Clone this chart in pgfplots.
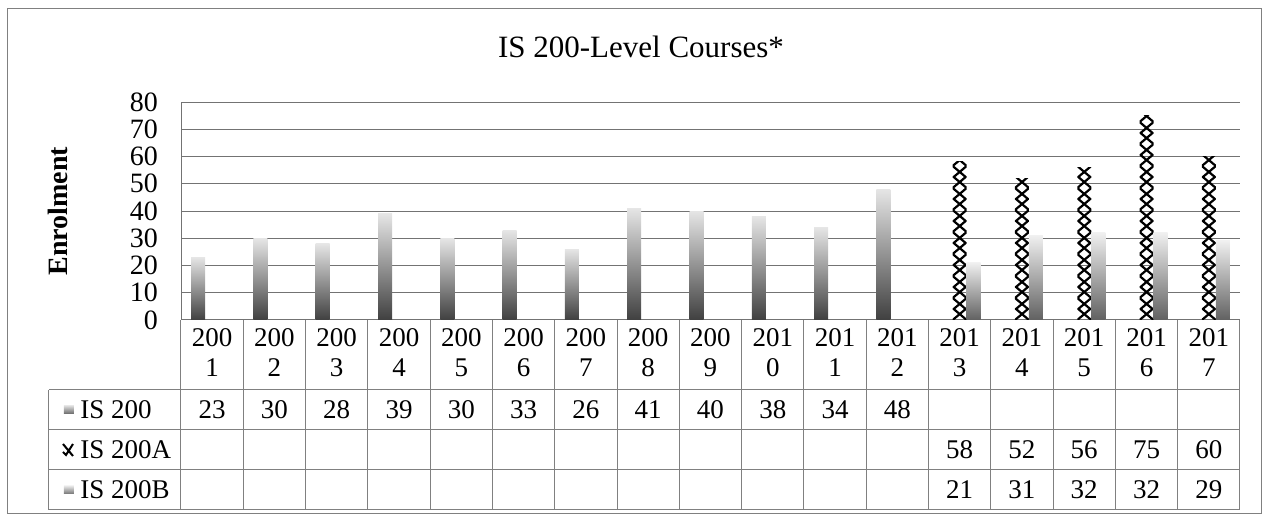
\documentclass[border=0pt]{standalone}
\usepackage{pgfplots}
\pgfplotsset{compat=1.18}
\usepackage{fontspec}
\setmainfont{Liberation Serif}
\newcommand{\tabfont}{\fontsize{13.5bp}{15bp}\selectfont}
\pgfplotsset{
  sA/.style={ybar, bar shift=-7bp, draw=none, bottom color=black!75, top color=black!10},
  sB/.style={ybar, bar shift=0bp, draw=none, fill=none,
    path picture={
      \draw[path picture={}, draw=black, fill=none, line width=1.1bp]
        (path picture bounding box.south west)
        \foreach \k in {1,...,20}{ -- ++(6.5bp,5.5bp) -- ++(-6.5bp,5.5bp) };
      \draw[path picture={}, draw=black, fill=none, line width=1.1bp]
        (path picture bounding box.south east)
        \foreach \k in {1,...,20}{ -- ++(-6.5bp,5.5bp) -- ++(6.5bp,5.5bp) };
    }},
  sC/.style={ybar, bar shift=7bp, draw=none, bottom color=black!62, top color=black!6},
}
\begin{document}
\begin{tikzpicture}
\useasboundingbox (0,0) rectangle (632.5bp,258.5bp);
\begin{scope}[x=0.5bp,y=-0.5bp,yshift=258.5bp]
  \draw[black!50, line width=0.5bp] (8,9) rectangle (1262,514);
  \node[font=\fontsize{15.5bp}{18bp}\selectfont] at (641,47) {IS 200-Level Courses*};
\end{scope}
\begin{axis}[
  at={(90.5bp,98.5bp)}, anchor=south west,
  scale only axis, width=529.5bp, height=109bp,
  xmin=-0.5, xmax=16.5, ymin=0, ymax=80,
  ytick={0,10,...,80}, xtick=\empty,
  ymajorgrids, grid style={black!55, line width=0.5bp},
  separate axis lines,
  axis x line*=bottom, axis y line*=left,
  axis line style={-, black!55, line width=0.5bp},
  major tick length=0pt,
  /pgf/number format/assume math mode=true,
  yticklabel style={font=\fontsize{14bp}{15bp}\selectfont, anchor=east, xshift=-8bp},
  ylabel={\bfseries Enrolment},
  ylabel style={font=\fontsize{14bp}{16bp}\selectfont, at={(axis description cs:0,0.5)}, anchor=center, yshift=61.5bp},
  ybar, bar width=7bp,
  clip=false,
]
% IS 200
\addplot[sA] coordinates {(0,23)};
\addplot[sA] coordinates {(1,30)};
\addplot[sA] coordinates {(2,28)};
\addplot[sA] coordinates {(3,39)};
\addplot[sA] coordinates {(4,30)};
\addplot[sA] coordinates {(5,33)};
\addplot[sA] coordinates {(6,26)};
\addplot[sA] coordinates {(7,41)};
\addplot[sA] coordinates {(8,40)};
\addplot[sA] coordinates {(9,38)};
\addplot[sA] coordinates {(10,34)};
\addplot[sA] coordinates {(11,48)};
% IS 200A
\addplot[sB] coordinates {(12,58)};
\addplot[sB] coordinates {(13,52)};
\addplot[sB] coordinates {(14,56)};
\addplot[sB] coordinates {(15,75)};
\addplot[sB] coordinates {(16,60)};
% IS 200B
\addplot[sC] coordinates {(12,21)};
\addplot[sC] coordinates {(13,31)};
\addplot[sC] coordinates {(14,32)};
\addplot[sC] coordinates {(15,32)};
\addplot[sC] coordinates {(16,29)};
\end{axis}
\begin{scope}[x=0.5bp,y=-0.5bp,yshift=258.5bp]
  \def\cw{62.294}
  % horizontal lines
  \foreach \yy in {390,430,470,510}{\draw[black!50, line width=0.5bp] (49,\yy) -- (1240,\yy);}
  \draw[black!50, line width=0.5bp] (49,390) -- (49,510);
  \foreach \k in {0,...,17}{\draw[black!50, line width=0.5bp] (181+\k*\cw,320) -- (181+\k*\cw,510);}
  % header labels
  \foreach \i/\a/\b in {0/200/1,1/200/2,2/200/3,3/200/4,4/200/5,5/200/6,6/200/7,7/200/8,8/200/9,9/201/0,10/201/1,11/201/2,12/201/3,13/201/4,14/201/5,15/201/6,16/201/7}{
    \node[font=\tabfont] at (181+\i*\cw+0.5*\cw,338) {\a};
    \node[font=\tabfont] at (181+\i*\cw+0.5*\cw,368) {\b};
  }
  % values
  \foreach \i/\v in {0/23,1/30,2/28,3/39,4/30,5/33,6/26,7/41,8/40,9/38,10/34,11/48}{
    \node[font=\tabfont] at (181+\i*\cw+0.5*\cw,410) {\v};}
  \foreach \i/\v in {12/58,13/52,14/56,15/75,16/60}{
    \node[font=\tabfont] at (181+\i*\cw+0.5*\cw,450) {\v};}
  \foreach \i/\v in {12/21,13/31,14/32,15/32,16/29}{
    \node[font=\tabfont] at (181+\i*\cw+0.5*\cw,490) {\v};}
  % legend
  \shade[bottom color=black!60, top color=black!15] (64,414) rectangle (74,406);
  \node[font=\tabfont, anchor=west, inner sep=0pt] at (80,410) {IS 200};
  \draw[black, line width=1bp] (63,444) -- (73,456) (73,444) -- (66,455) -- (63,452);
  \node[font=\tabfont, anchor=west, inner sep=0pt] at (80,450) {IS 200A};
  \shade[bottom color=black!55, top color=black!10] (64,494) rectangle (74,486);
  \node[font=\tabfont, anchor=west, inner sep=0pt] at (80,490) {IS 200B};
\end{scope}
\end{tikzpicture}
\end{document}
